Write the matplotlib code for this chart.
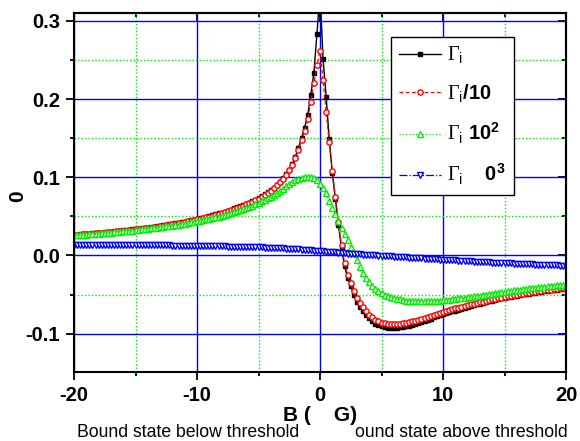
import numpy as np
import matplotlib
matplotlib.use('Agg')
import matplotlib.pyplot as plt
from matplotlib.ticker import MultipleLocator

plt.rcParams['font.family'] = ['Liberation Sans', 'DejaVu Sans']
plt.rcParams['mathtext.fontset'] = 'custom'
plt.rcParams['mathtext.rm'] = 'Liberation Serif'
plt.rcParams['mathtext.sf'] = 'Liberation Sans'
plt.rcParams['mathtext.bf'] = 'Liberation Sans:bold'

# magnetic field grid, B from -20 to 20 in steps of 0.25
B = np.linspace(-20, 20, 161)

gamma_1 = [
    .0265, .0268, .0271, .0274, .0277, .0280, .0283, .0286,
    .0290, .0293, .0297, .0300, .0304, .0308, .0312, .0316,
    .0320, .0324, .0328, .0333, .0337, .0342, .0347, .0352,
    .0357, .0362, .0367, .0373, .0379, .0385, .0391, .0397,
    .0404, .0410, .0417, .0425, .0432, .0440, .0448, .0456,
    .0465, .0474, .0483, .0493, .0503, .0514, .0525, .0537,
    .0549, .0561, .0574, .0587, .0601, .0615, .0629, .0643,
    .0658, .0675, .0693, .0712, .0732, .0754, .0780, .0807,
    .0835, .0867, .0902, .0941, .0985, .1040, .1098, .1175,
    .1265, .1375, .1500, .1635, .1790, .2055, .2330, .2830,
    .3370, .2510, .2030, .1490, .1055, .0720, .0390, .0090,
    -.0140, -.0290, -.0390, -.0500, -.0590, -.0655, -.0715, -.0765,
    -.0805, -.0840, -.0870, -.0893, -.0908, -.0918, -.0924, -.0927,
    -.0926, -.0923, -.0918, -.0912, -.0905, -.0896, -.0886, -.0875,
    -.0862, -.0849, -.0835, -.0821, -.0807, -.0793, -.0779, -.0766,
    -.0752, -.0740, -.0728, -.0716, -.0704, -.0692, -.0680, -.0669,
    -.0658, -.0647, -.0636, -.0626, -.0616, -.0606, -.0596, -.0586,
    -.0577, -.0568, -.0559, -.0550, -.0541, -.0534, -.0527, -.0520,
    -.0513, -.0506, -.0499, -.0493, -.0487, -.0481, -.0475, -.0469,
    -.0463, -.0457, -.0452, -.0447, -.0442, -.0437, -.0432, -.0427,
    -.0422]

gamma_div10 = [
    .0260, .0263, .0266, .0269, .0272, .0275, .0278, .0281,
    .0285, .0288, .0292, .0295, .0299, .0303, .0307, .0311,
    .0315, .0319, .0323, .0328, .0332, .0337, .0342, .0347,
    .0352, .0357, .0362, .0368, .0374, .0380, .0386, .0392,
    .0399, .0405, .0412, .0420, .0427, .0435, .0443, .0451,
    .0460, .0469, .0478, .0488, .0498, .0509, .0520, .0532,
    .0544, .0556, .0569, .0582, .0596, .0610, .0624, .0638,
    .0653, .0670, .0688, .0707, .0727, .0749, .0775, .0802,
    .0830, .0862, .0897, .0936, .0980, .1030, .1088, .1160,
    .1245, .1350, .1470, .1595, .1740, .1965, .2200, .2430,
    .2620, .2240, .1830, .1450, .1075, .0750, .0430, .0130,
    -.0100, -.0250, -.0350, -.0460, -.0545, -.0610, -.0665, -.0715,
    -.0755, -.0790, -.0820, -.0843, -.0858, -.0868, -.0874, -.0877,
    -.0877, -.0875, -.0871, -.0866, -.0860, -.0852, -.0843, -.0833,
    -.0822, -.0810, -.0797, -.0784, -.0771, -.0758, -.0746, -.0734,
    -.0722, -.0711, -.0700, -.0689, -.0678, -.0667, -.0656, -.0646,
    -.0636, -.0626, -.0616, -.0607, -.0598, -.0589, -.0580, -.0571,
    -.0563, -.0555, -.0547, -.0539, -.0531, -.0524, -.0517, -.0510,
    -.0503, -.0496, -.0489, -.0483, -.0477, -.0471, -.0465, -.0459,
    -.0453, -.0447, -.0442, -.0437, -.0432, -.0427, -.0422, -.0417,
    -.0412]

gamma_x1e2 = [
    .0257, .0260, .0262, .0265, .0268, .0271, .0274, .0277,
    .0280, .0283, .0286, .0290, .0293, .0297, .0300, .0304,
    .0308, .0311, .0315, .0319, .0324, .0328, .0332, .0337,
    .0341, .0346, .0351, .0356, .0361, .0366, .0372, .0377,
    .0383, .0389, .0395, .0402, .0408, .0415, .0422, .0429,
    .0437, .0444, .0453, .0461, .0470, .0479, .0488, .0498,
    .0508, .0518, .0529, .0541, .0553, .0565, .0578, .0592,
    .0606, .0622, .0637, .0654, .0672, .0690, .0710, .0731,
    .0753, .0776, .0801, .0828, .0856, .0886, .0914, .0940,
    .0960, .0977, .0991, .1002, .1008, .1008, .0995, .0968,
    .0920, .0865, .0800, .0690, .0610, .0530, .0445, .0350,
    .0270, .0195, .0110, .0030, -.0060, -.0145, -.0220, -.0290,
    -.0345, -.0390, -.0425, -.0455, -.0480, -.0500, -.0517, -.0532,
    -.0545, -.0555, -.0563, -.0570, -.0576, -.0580, -.0583, -.0585,
    -.0586, -.0587, -.0587, -.0586, -.0584, -.0582, -.0579, -.0576,
    -.0572, -.0568, -.0564, -.0560, -.0555, -.0550, -.0545, -.0540,
    -.0535, -.0530, -.0524, -.0518, -.0512, -.0506, -.0500, -.0494,
    -.0488, -.0482, -.0476, -.0470, -.0464, -.0458, -.0452, -.0447,
    -.0442, -.0437, -.0432, -.0427, -.0422, -.0417, -.0412, -.0408,
    -.0404, -.0400, -.0396, -.0392, -.0388, -.0384, -.0380, -.0376,
    -.0372]

gamma_x1e3 = [
    .0137, .0137, .0137, .0137, .0137, .0137, .0136, .0136,
    .0136, .0136, .0136, .0135, .0135, .0135, .0135, .0134,
    .0134, .0134, .0133, .0133, .0133, .0132, .0132, .0131,
    .0131, .0131, .0130, .0130, .0129, .0129, .0128, .0128,
    .0127, .0126, .0126, .0125, .0125, .0124, .0123, .0123,
    .0122, .0121, .0121, .0120, .0119, .0118, .0118, .0117,
    .0116, .0115, .0114, .0113, .0112, .0111, .0110, .0109,
    .0108, .0107, .0106, .0104, .0103, .0102, .0100, .0099,
    .0097, .0095, .0094, .0092, .0090, .0088, .0086, .0083,
    .0081, .0078, .0075, .0072, .0069, .0066, .0062, .0059,
    .0055, .0052, .0048, .0045, .0041, .0038, .0034, .0031,
    .0028, .0025, .0022, .0019, .0016, .0013, .0010, .0008,
    .0005, .0002, .0000, -.0003, -.0005, -.0008, -.0010, -.0013,
    -.0015, -.0018, -.0020, -.0023, -.0025, -.0028, -.0030, -.0033,
    -.0035, -.0038, -.0040, -.0043, -.0045, -.0048, -.0050, -.0053,
    -.0055, -.0057, -.0060, -.0062, -.0064, -.0066, -.0069, -.0071,
    -.0073, -.0075, -.0078, -.0080, -.0082, -.0084, -.0086, -.0088,
    -.0090, -.0092, -.0094, -.0096, -.0098, -.0100, -.0102, -.0103,
    -.0105, -.0107, -.0109, -.0110, -.0112, -.0114, -.0116, -.0117,
    -.0119, -.0121, -.0123, -.0124, -.0126, -.0128, -.0130, -.0131,
    -.0133]

labels = [r'$\Gamma_{\mathsf{i}}$',
          r'$\Gamma_{\mathsf{i}}$/10',
          r'$\Gamma_{\mathsf{i}}$ 10$^{\mathbf{2}}$',
          r'$\Gamma_{\mathsf{i}}$    0$^{\mathbf{3}}$']
xticks = [-20, -10, 0, 10, 20]
yticks = [-0.1, 0.0, 0.1, 0.2, 0.3]


def make_plot():
    fig = plt.figure(figsize=(5.8, 4.41), dpi=100)
    ax = fig.add_axes([74/580, 1-372/441, 492/580, 359/441])

    ax.plot(B, gamma_1, '-', color='black', lw=1.0, marker='s', ms=3.4,
            mfc='black', mec='black', label=labels[0])
    ax.plot(B, gamma_div10, '--', color='red', lw=0.9, marker='o', ms=3.8,
            mfc='white', mec='red', mew=1.0, dashes=(3, 2), label=labels[1])
    ax.plot(B, gamma_x1e2, ':', color='#00ee00', lw=0.9, marker='^', ms=4.4,
            mfc='white', mec='#00ee00', mew=1.0, label=labels[2])
    ax.plot(B, gamma_x1e3, '-.', color='blue', lw=0.9, marker='v', ms=4.2,
            mfc='white', mec='blue', mew=1.0, label=labels[3])

    ax.set_xlim(-20, 20)
    ax.set_ylim(-0.149, 0.31)
    ax.set_xticks(xticks)
    ax.set_yticks(yticks)
    ax.set_xticklabels([str(v) for v in xticks])
    ax.set_yticklabels(['%.1f' % v for v in yticks])
    ax.xaxis.set_minor_locator(MultipleLocator(5))
    ax.yaxis.set_minor_locator(MultipleLocator(0.05))

    ax.grid(True, which='major', color='blue', lw=1.0, ls='-')
    ax.grid(True, which='minor', color='#00ee00', lw=1.0, ls=(0, (1, 1.5)))
    ax.set_axisbelow(True)

    ax.tick_params(which='major', direction='out', length=6, width=1.3,
                   labelsize=14.5, pad=4)
    ax.tick_params(which='minor', direction='out', length=3, width=1.3)
    for t in ax.get_xticklabels() + ax.get_yticklabels():
        t.set_fontweight('bold')

    # inward ticks on the top and right sides
    top = ax.secondary_xaxis('top')
    top.set_xticks(xticks)
    top.xaxis.set_minor_locator(MultipleLocator(5))
    top.tick_params(which='both', direction='in', labeltop=False, width=1.3)
    top.tick_params(which='major', length=6)
    top.tick_params(which='minor', length=3)
    right = ax.secondary_yaxis('right')
    right.set_yticks(yticks)
    right.yaxis.set_minor_locator(MultipleLocator(0.05))
    right.tick_params(which='both', direction='in', labelright=False, width=1.3)
    right.tick_params(which='major', length=6)
    right.tick_params(which='minor', length=3)

    for s in list(ax.spines.values()) + [top.spines['top'], right.spines['right']]:
        s.set_linewidth(1.5)

    ax.set_xlabel('B (    G)', fontsize=15, fontweight='bold', labelpad=1)
    ax.set_ylabel('0', fontsize=15, fontweight='bold')
    ax.yaxis.set_label_coords(-0.096, 0.49)

    leg = ax.legend(loc='upper left', bbox_to_anchor=(0.644, 0.933),
                    borderaxespad=0, numpoints=1, handlelength=2.1,
                    labelspacing=0.8, fancybox=False, framealpha=1,
                    edgecolor='black', prop={'weight': 'bold', 'size': 14.5},
                    borderpad=0.4, handletextpad=0.3)
    leg.get_frame().set_linewidth(1.0)

    fig.text(77/580, 0.008, 'Bound state below threshold', fontsize=12.7,
             ha='left', va='baseline')
    fig.text(568/580, 0.008, 'ound state above threshold', fontsize=12.7,
             ha='right', va='baseline')

    fig.savefig('out.png', dpi=100)


if __name__ == '__main__':
    make_plot()
